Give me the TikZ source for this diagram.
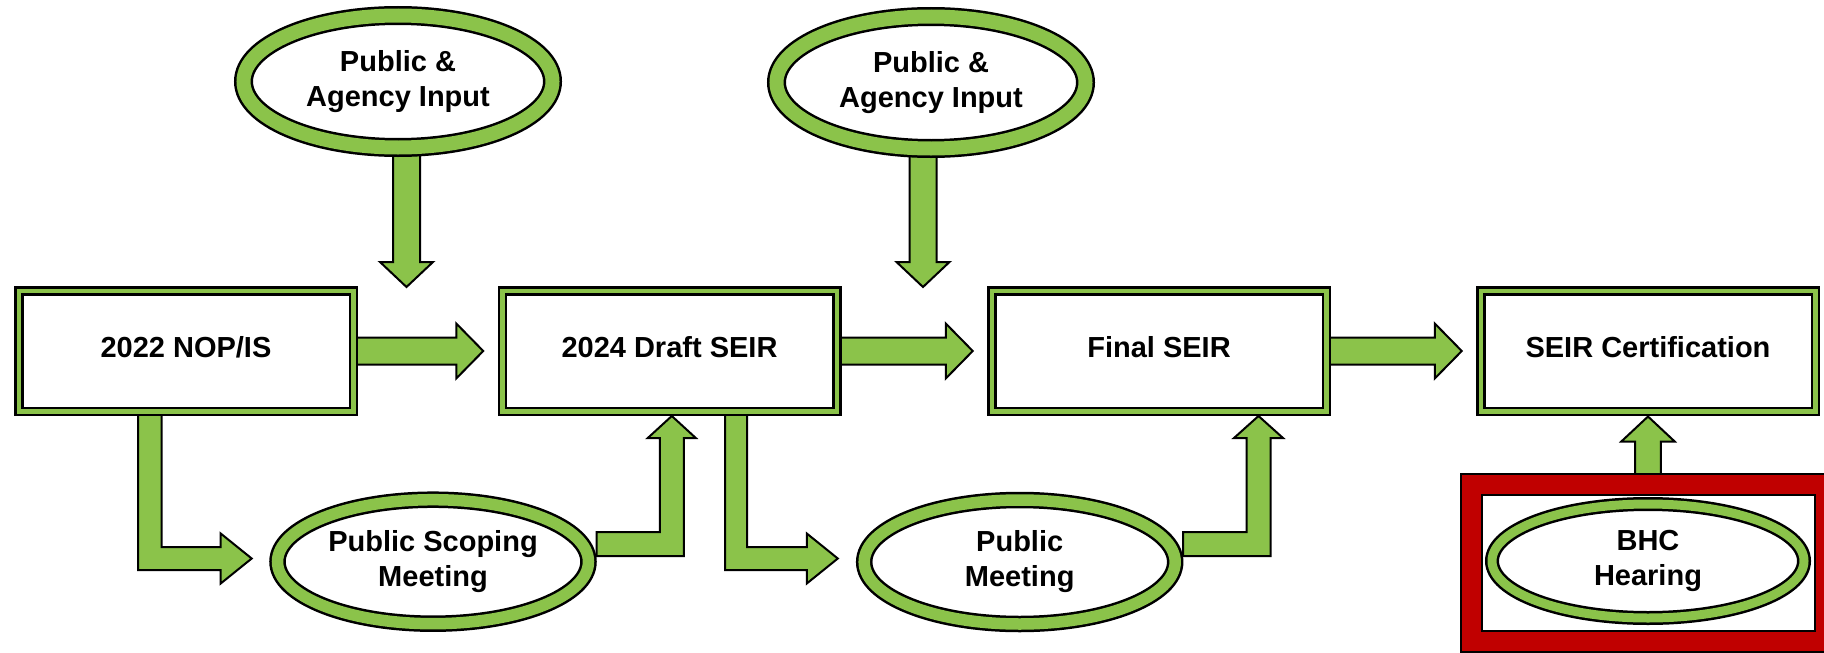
\documentclass[tikz,border=0pt]{standalone}
\usepackage{fontspec}
\setmainfont{Liberation Sans}
\usetikzlibrary{shapes.geometric,calc}
\definecolor{fgreen}{RGB}{139,195,74}
\definecolor{fred}{RGB}{192,0,0}
\pgfdeclarelayer{back}
\pgfdeclarelayer{bg}
\pgfsetlayers{back,bg,main}
\tikzset{
  lbl/.style={font=\fontsize{29}{35}\selectfont\bfseries, text=black},
  stagebox/.style={lbl, rectangle, draw=black, line width=2.5pt, double=fgreen,
    double distance=4.5pt, fill=white, minimum width=334.5pt, minimum height=120.5pt,
    inner sep=0pt, outer sep=0pt, text height=21pt, text depth=8pt},
  ringell/.style={lbl, ellipse, draw=black, line width=2.5pt, double=fgreen,
    fill=white, inner sep=0pt, outer sep=0pt, align=center},
  inputell/.style={ringell, double distance=14pt, minimum width=309pt, minimum height=132pt},
  meetell/.style={ringell, double distance=11.5pt, minimum width=311pt, minimum height=124pt},
  bhcell/.style={ringell, double distance=9pt, minimum width=312pt, minimum height=114pt},
  redframe/.style={rectangle, draw=black, line width=2pt, double=fred, double distance=18.5pt,
    fill=white, minimum width=354pt, minimum height=156.7pt, inner sep=0pt, outer sep=0pt},
  barrow/.style={draw=black, fill=fgreen, line width=2pt, line join=miter}
}
\begin{document}
\begin{tikzpicture}[x=1pt,y=-1pt]
\useasboundingbox (0,0) rectangle (1824,653);
\begin{pgfonlayer}{back}
\fill[white] (0,0) rectangle (1824,653);
\end{pgfonlayer}
\clip (0,0) rectangle (1824,653);

% stages
\node[stagebox] (b1) at (186,351) {2022 NOP/IS};
\node[stagebox] (b2) at (669.5,351) {2024 Draft SEIR};
\node[stagebox] (b3) at (1159,351) {Final SEIR};
\node[stagebox] (b4) at (1648,351) {SEIR Certification};

% inputs
\node[inputell] (e1) at (398,81.5) {Public \&\\Agency Input};
\node[inputell] (e2) at (931,82.5) {Public \&\\Agency Input};

% meetings
\node[meetell] (e3) at (433,561.7) {Public Scoping\\Meeting};
\node[meetell] (e4) at (1019.7,562) {Public\\Meeting};

% hearing in red frame
\node[redframe] (rf) at (1648.25,562.9) {};
\node[bhcell] (e5) at (1648,561) {BHC\\Hearing};

% arrow tips
\coordinate (t1) at (406.5,287);
\coordinate (t2) at (923,287);
\coordinate (c1) at (251.7,558.5);
\coordinate (c2) at (837.8,558.5);
\coordinate (c3) at (671.8,416);
\coordinate (c4) at (1258.5,416);
\coordinate (c5) at (1648,416.5);

\begin{pgfonlayer}{bg}
% horizontal arrows between stages
\draw[barrow] let \p1=(b1.east), \p2=(b2.west) in
  (\x1,\y1+13.5pt) -- (\x2-46pt,\y1+13.5pt) -- (\x2-46pt,\y1+27.5pt) -- (\x2-19pt,\y1)
  -- (\x2-46pt,\y1-27.5pt) -- (\x2-46pt,\y1-13.5pt) -- (\x1,\y1-13.5pt) -- cycle;
\draw[barrow] let \p1=(b2.east), \p2=(b3.west) in
  (\x1,\y1+13.5pt) -- (\x2-46pt,\y1+13.5pt) -- (\x2-46pt,\y1+27.5pt) -- (\x2-19pt,\y1)
  -- (\x2-46pt,\y1-27.5pt) -- (\x2-46pt,\y1-13.5pt) -- (\x1,\y1-13.5pt) -- cycle;
\draw[barrow] let \p1=(b3.east), \p2=(b4.west) in
  (\x1,\y1+13.5pt) -- (\x2-46pt,\y1+13.5pt) -- (\x2-46pt,\y1+27.5pt) -- (\x2-19pt,\y1)
  -- (\x2-46pt,\y1-27.5pt) -- (\x2-46pt,\y1-13.5pt) -- (\x1,\y1-13.5pt) -- cycle;

% input arrows (down)
\draw[barrow] let \p1=(e1.south), \p2=(t1) in
  (\x2-13.5pt,\y1) -- (\x2-13.5pt,\y2+25pt) -- (\x2-26.5pt,\y2+25pt) -- (\x2,\y2)
  -- (\x2+26.5pt,\y2+25pt) -- (\x2+13.5pt,\y2+25pt) -- (\x2+13.5pt,\y1) -- cycle;
\draw[barrow] let \p1=(e2.south), \p2=(t2) in
  (\x2-13.5pt,\y1) -- (\x2-13.5pt,\y2+25pt) -- (\x2-26.5pt,\y2+25pt) -- (\x2,\y2)
  -- (\x2+26.5pt,\y2+25pt) -- (\x2+13.5pt,\y2+25pt) -- (\x2+13.5pt,\y1) -- cycle;

% L arrows from stages down to meetings
\draw[barrow] let \p1=(b1.south), \p2=(c1) in
  (\x1-48pt,\y1) -- (\x1-48pt,\y2-11.5pt) -- (\x2-31pt,\y2-11.5pt) -- (\x2-31pt,\y2-25pt)
  -- (\x2,\y2) -- (\x2-31pt,\y2+25pt) -- (\x2-31pt,\y2+11.5pt) -- (\x1-24.5pt,\y2+11.5pt)
  -- (\x1-24.5pt,\y1) -- cycle;
\draw[barrow] let \p1=(b2.south), \p2=(c2) in
  (\x1+55.5pt,\y1) -- (\x1+55.5pt,\y2-11.5pt) -- (\x2-31pt,\y2-11.5pt) -- (\x2-31pt,\y2-25pt)
  -- (\x2,\y2) -- (\x2-31pt,\y2+25pt) -- (\x2-31pt,\y2+11.5pt) -- (\x1+77.5pt,\y2+11.5pt)
  -- (\x1+77.5pt,\y1) -- cycle;

% L arrows from meetings up to stages
\draw[barrow] let \p1=(e3.east), \p2=(c3) in
  (\x1+8pt,\y2-116pt) -- (\x2-12pt,\y2-116pt) -- (\x2-12pt,\y2-22pt) -- (\x2-24pt,\y2-22pt)
  -- (\x2,\y2) -- (\x2+24pt,\y2-22pt) -- (\x2+12pt,\y2-22pt) -- (\x2+12pt,\y2-140pt)
  -- (\x1+8pt,\y2-140pt) -- cycle;
\draw[barrow] let \p1=(e4.east), \p2=(c4) in
  (\x1+8pt,\y2-116pt) -- (\x2-12pt,\y2-116pt) -- (\x2-12pt,\y2-22pt) -- (\x2-24.5pt,\y2-22pt)
  -- (\x2,\y2) -- (\x2+24.5pt,\y2-22pt) -- (\x2+12pt,\y2-22pt) -- (\x2+12pt,\y2-140pt)
  -- (\x1+8pt,\y2-140pt) -- cycle;

% hearing up to certification
\draw[barrow] let \p1=(rf.north), \p2=(c5) in
  (\x2-12.8pt,\y1) -- (\x2-12.8pt,\y2-25pt) -- (\x2-26.7pt,\y2-25pt) -- (\x2,\y2)
  -- (\x2+26.7pt,\y2-25pt) -- (\x2+12.8pt,\y2-25pt) -- (\x2+12.8pt,\y1) -- cycle;
\end{pgfonlayer}
\end{tikzpicture}
\end{document}
